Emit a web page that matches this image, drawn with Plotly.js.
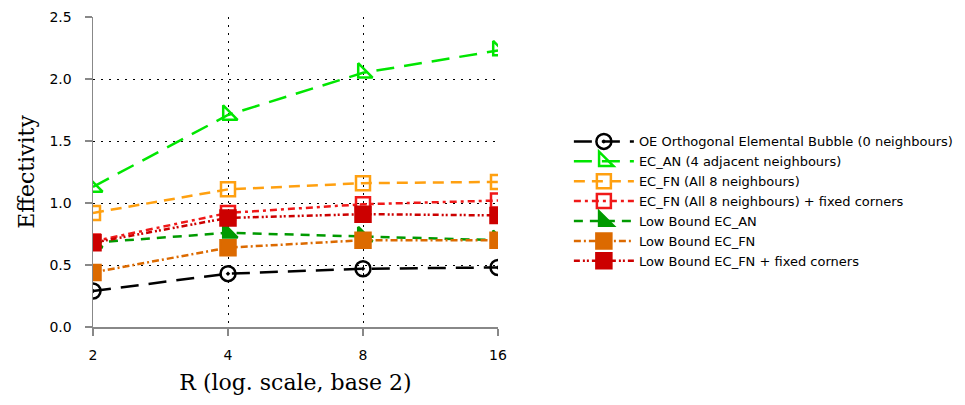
<!DOCTYPE html>
<html>
<head>
<meta charset="utf-8">
<script src="https://cdn.plot.ly/plotly-3.0.1.min.js"></script>
<style>
  html, body { margin: 0; padding: 0; background: #fff; }
  #chart { width: 965px; height: 405px; }
</style>
</head>
<body>
<div id="chart"></div>
<script>
// Neighbourhood radius R (plotted on a base-2 log axis)
const radius = [2, 4, 8, 16];
const yTicks = [0, 0.5, 1.0, 1.5, 2.0, 2.5];

// Effectivity for each scheme
const oeBubble        = [0.29, 0.43, 0.47, 0.48];
const ecAdjacent      = [1.13, 1.71, 2.05, 2.23];
const ecFull          = [0.92, 1.11, 1.16, 1.17];
const ecFullFixed     = [0.69, 0.92, 0.99, 1.02];
const lowEcAdjacent   = [0.68, 0.76, 0.73, 0.70];
const lowEcFull       = [0.44, 0.64, 0.70, 0.70];
const lowEcFullFixed  = [0.68, 0.88, 0.91, 0.90];

const names = [
  'OE Orthogonal Elemental Bubble (0 neighbours)',
  'EC_AN (4 adjacent neighbours)',
  'EC_FN (All 8 neighbours)',
  'EC_FN (All 8 neighbours) + fixed corners',
  'Low Bound EC_AN',
  'Low Bound EC_FN',
  'Low Bound EC_FN + fixed corners'
];

function series(name, y, color, dash, symbol, size) {
  return {
    type: 'scatter', mode: 'lines+markers', name: name,
    x: radius, y: y,
    line: { color: color, width: 2.5, dash: dash },
    marker: { symbol: symbol, size: size, color: color,
              line: { color: color, width: 2.5 } },
    cliponaxis: true
  };
}

const traces = [
  series(names[0], oeBubble,       '#000000', '18px,10px',          'circle-open-dot', 15),
  series(names[1], ecAdjacent,     '#00e600', '18px,10px',          'triangle-sw-open', 16),
  series(names[2], ecFull,         '#ffa010', '11px,7px',           'square-open', 14),
  series(names[3], ecFullFixed,    '#f01818', '7px,4px,3px,4px',    'square-open', 14),
  series(names[4], lowEcAdjacent,  '#009a00', '9px,7px',            'triangle-sw', 16),
  series(names[5], lowEcFull,      '#dc6a00', '7px,3px,2px,3px',    'square', 15),
  series(names[6], lowEcFullFixed, '#cc0000', '6px,3px,2px,2px,2px,3px', 'square', 15)
];

const axisCommon = {
  ticks: 'outside', ticklen: 7, tickwidth: 1.5, tickcolor: '#888',
  showline: true, linecolor: '#888', linewidth: 1.5,
  showgrid: true, gridcolor: '#000', griddash: '2px,6px', gridwidth: 1,
  zeroline: false,
  tickfont: { family: 'DejaVu Sans', size: 14, color: '#000' }
};

const layout = {
  width: 965, height: 405,
  margin: { l: 93, r: 467, t: 17, b: 78, autoexpand: false },
  paper_bgcolor: '#ffffff', plot_bgcolor: '#ffffff',
  showlegend: true,
  legend: {
    x: 1.175, xanchor: 'left', y: 0.405, yanchor: 'middle',
    font: { family: 'DejaVu Sans', size: 13, color: '#000' },
    bgcolor: 'rgba(0,0,0,0)', tracegroupgap: 0, itemwidth: 60
  },
  xaxis: Object.assign({}, axisCommon, {
    type: 'log',
    range: [Math.log10(2), Math.log10(16)],
    tickvals: radius, ticktext: radius.map(String),
    ticklabelstandoff: 8,
    title: { text: 'R (log. scale, base 2)', standoff: 12,
             font: { family: 'DejaVu Serif', size: 22, color: '#000' } }
  }),
  yaxis: Object.assign({}, axisCommon, {
    range: [0, 2.5],
    tickvals: yTicks, ticktext: yTicks.map(v => v.toFixed(1)),
    ticklabelstandoff: 10,
    title: { text: 'Effectivity', standoff: 8,
             font: { family: 'DejaVu Serif', size: 22, color: '#000' } }
  })
};

Plotly.newPlot('chart', traces, layout, { staticPlot: true, displayModeBar: false });
</script>
</body>
</html>
